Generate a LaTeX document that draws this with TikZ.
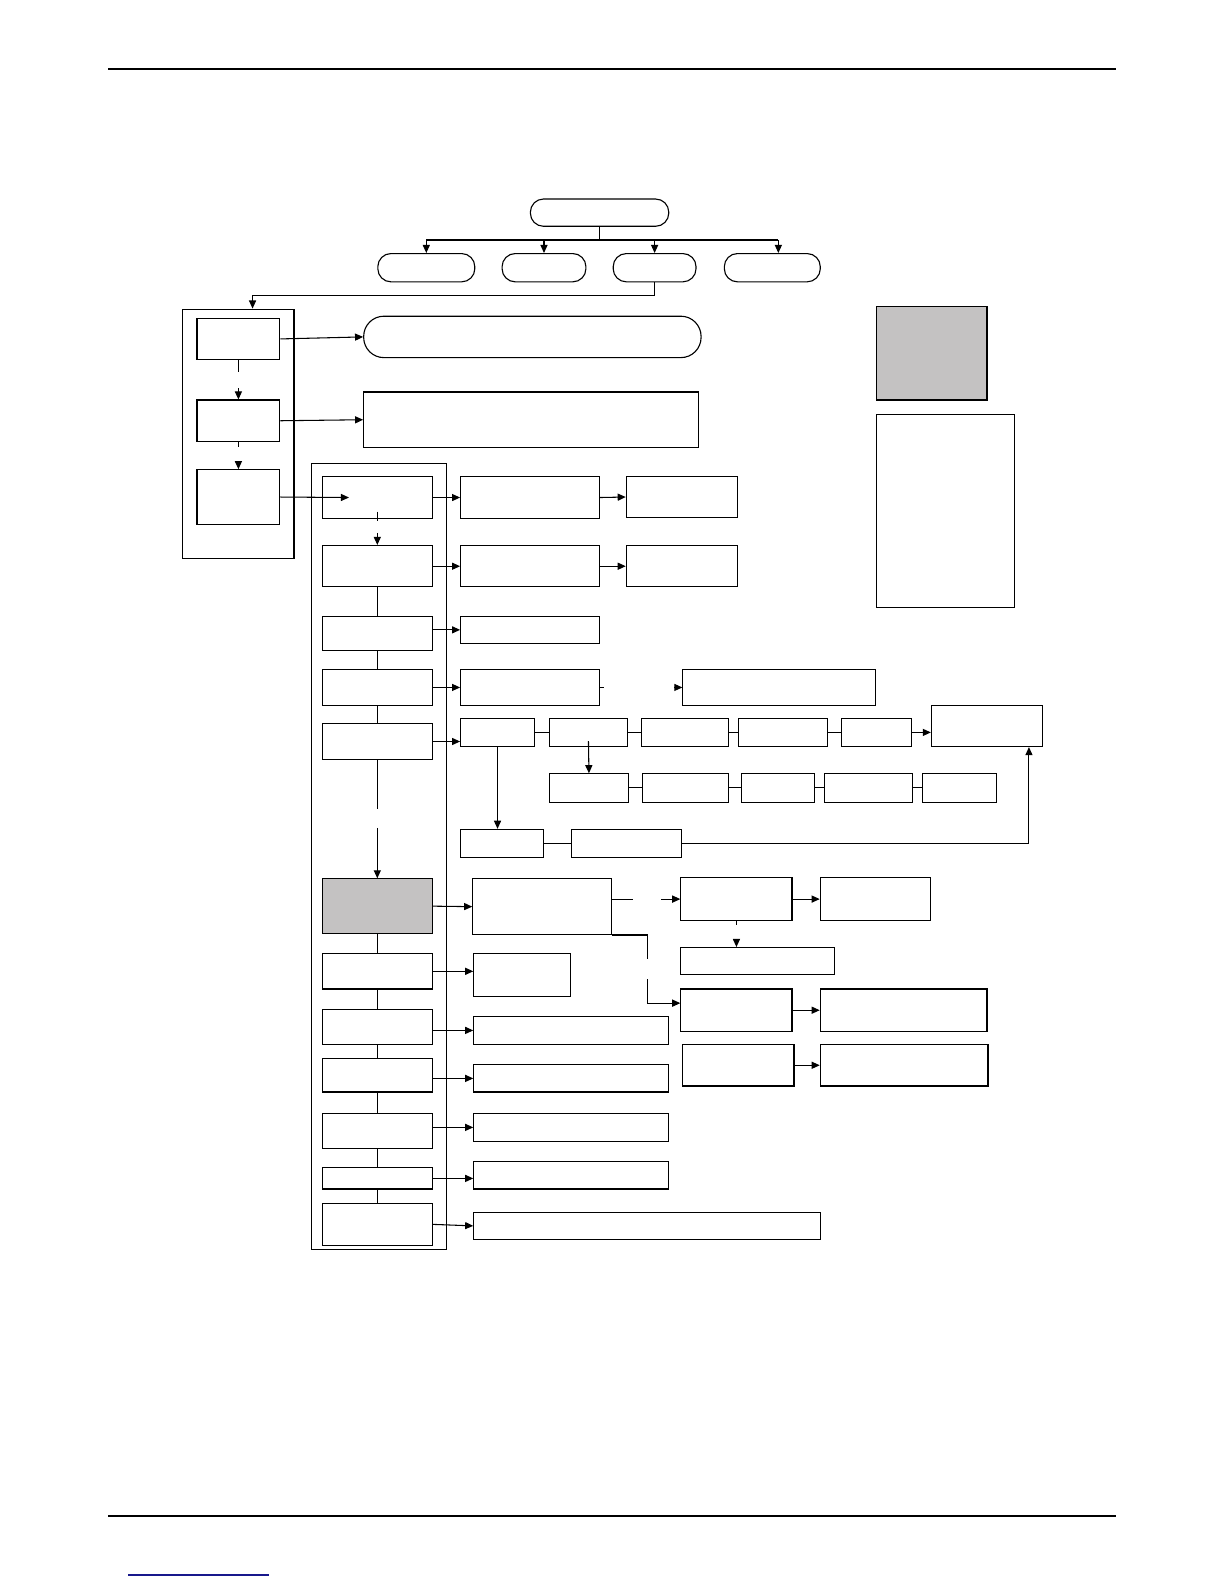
\documentclass[tikz,border=0pt]{standalone}
\usepackage{tikz}
\usetikzlibrary{arrows.meta,calc,fit,positioning}
\definecolor{boxG}{RGB}{196,194,194}
\definecolor{lineN}{RGB}{24,24,140}

\begin{document}
\begin{tikzpicture}[x=1pt,y=1pt,>={Triangle[length=8pt,width=7pt]},
  blk/.style={draw,line width=1.1pt,inner sep=0pt},
  pillbox/.style={blk,rounded corners=13pt},
  grey/.style={blk,fill=boxG},
  arr/.style={->,line width=1.05pt},
  link/.style={line width=1.05pt}]
\useasboundingbox (0,0) rectangle (1212,-1568);
% page rules
\draw[line width=2.2pt] (107,-68) -- (1105,-68);
\draw[line width=2.2pt] (107,-1501) -- (1105,-1501);
\draw[lineN,line width=1.3pt] (127,-1559) -- (266,-1559);
% top level
\node[pillbox,fit={(525,-197) (662,-224)}] (top) {};
\foreach \n/\xa/\xb in {p1/374/470,p2/497/580,p3/607/689,p4/717/812}
  \node[pillbox,fit={(\xa,-251) (\xb,-279)}] (\n) {};
\coordinate (p4in) at ([xshift=6]p4.north);
\draw[link] (top.south) -- ++(0,-13) coordinate (bus);
\draw[link] (bus -| p1.north) -- (bus -| p4in);
\foreach \n in {p1.north,p2.north,p3.north,p4in} \draw[arr] (bus -| \n) -- (\n);
% left group
\node[blk,fit={(181,-306) (291,-553)}] (outer) {};
\node[blk,fit={(195,-315) (277,-356)}] (a1) {};
\node[blk,fit={(195,-396) (277,-437)}] (a2) {};
\node[blk,fit={(195,-465) (277,-519)}] (a3) {};
\node[pillbox,rounded corners=20pt,fit={(360,-313) (694,-354)}] (pill) {};
\node[blk,fit={(360,-388) (691,-443)}] (b2) {};
\draw[arr] (p3.south) -- ++(0,-13) -| ([xshift=14]outer.north);
\draw[arr] (a1.east) -- (pill.west);
\draw[arr] (a2.east) -- (b2.west);
\draw[link] (a1.south) -- ++(0,-12);
\draw[arr] ([yshift=11]a2.north) -- (a2.north);
\draw[link] (a2.south) -- ++(0,-5);
\draw[arr] ([yshift=6]a3.north) -- (a3.north);
% main column
\node[blk,fit={(308,-459) (442,-1237)}] (inner) {};
\foreach \n/\ya/\yb in {c1/472/513,c2/540/581,c3/610/644,c4/663/698,c5/716/752,
    c7/944/979,c8/999/1034,c9/1048/1081,c10/1102/1137,c11/1156/1177,c12/1191/1233}
  \node[blk,fit={(319,-\ya) (428,-\yb)}] (\n) {};
\node[grey,fit={(319,-870) (428,-924)}] (c6) {};
\draw[arr] (a3.east) -- ([xshift=27]c1.west);
\draw[link] ([yshift=7]c1.south) -- ++(0,-9);
\draw[arr] ([yshift=12]c2.north) -- (c2.north);
\foreach \a/\b in {c2/c3,c3/c4,c4/c5,c6/c7,c7/c8,c8/c9,c9/c10,c10/c11,c11/c12}
  \draw[link] (\a.south) -- (\b.north);
\draw[link] (c5.south) -- ++(0,-48);
\draw[arr] ([yshift=50]c6.north) -- (c6.north);
% right side boxes
\foreach \n/\xa/\ya/\xb/\yb in {r1a/456/472/593/513,r1b/620/472/730/512,
    r2a/456/540/593/581,r2b/620/540/730/581,r3/456/610/593/637,
    r4a/456/663/593/698,r4b/676/663/867/698,
    e1/456/711/529/739,e2/544/711/621/739,e3/635/711/721/739,e4/731/711/819/739,
    e5/833/711/902/739,e6/922/698/1032/739,
    f1/544/766/622/794,f2/636/766/721/794,f3/734/766/806/794,f4/816/766/903/794,
    f5/913/766/986/794,g1/456/821/538/849,g2/566/821/675/849,
    h1/468/870/605/925,h2/469/944/565/986,h3/469/1006/662/1034,h4/469/1054/662/1081,
    h5/469/1102/662/1130,h6/469/1150/662/1177,h7/469/1200/812/1227,
    j1/674/869/784/911,j2/812/869/921/911,j3/674/938/826/965,j4/674/979/784/1021,
    j5/812/979/977/1021,j6/676/1034/786/1075,j7/812/1034/978/1075,
    k2/868/410/1004/601}
  \node[blk,fit={(\xa,-\ya) (\xb,-\yb)}] (\n) {};
\node[grey,fit={(868,-303) (977,-396)}] (k1) {};
% connectors
\foreach \a/\b in {c1/r1a,r1a/r1b,c2/r2a,r2a/r2b,c4/r4a,c6/h1,c12/h7,j1/j2,j4/j5,j6/j7}
  \draw[arr] (\a.east) -- (\b.west);
\draw[arr] (c3.east |- r3.west) -- (r3.west);
\draw[link] (r4a.east) -- ++(4,0);
\draw[arr] ([xshift=-8]r4b.west) -- (r4b.west);
\draw[arr] (c5.east) -- (c5.east -| e1.west);
\foreach \a/\b in {e1/e2,e2/e3,e3/e4,e4/e5,f1/f2,f2/f3,f3/f4,f4/f5,g1/g2}
  \draw[link] (\a.east) -- (\b.west);
\draw[arr] (e5.east) -- (e5.east -| e6.west);
\draw[arr] ([yshift=6]e2.south) -- (f1.north);
\draw[arr] (e1.south) -- (e1.south |- g1.north);
\draw[arr] (g2.east) -| ([xshift=-14]e6.south east);
\draw[link] (h1.east |- j1.west) -- ++(21,0);
\draw[arr] ([xshift=-19]j1.west) -- (j1.west);
\draw[link] (j1.south) -- ++(0,-4);
\draw[arr] ([yshift=6]j1.south |- j3.north) -- (j1.south |- j3.north);
\draw[link] (h1.south east) -- ++(35,0) coordinate (hk) -- ++(0,-24);
\draw[arr] ([yshift=-44]hk) |- ([yshift=7]j4.west);
\draw[arr] (c7.east) -- (c7.east -| h2.west);
\draw[arr] (h3.west -| c8.east) -- (h3.west);
\draw[arr] (h4.west -| c9.east) -- (h4.west);
\draw[arr] (h5.west -| c10.east) -- (h5.west);
\draw[arr] (c11.east) -- (c11.east -| h6.west);
\end{tikzpicture}
\end{document}
